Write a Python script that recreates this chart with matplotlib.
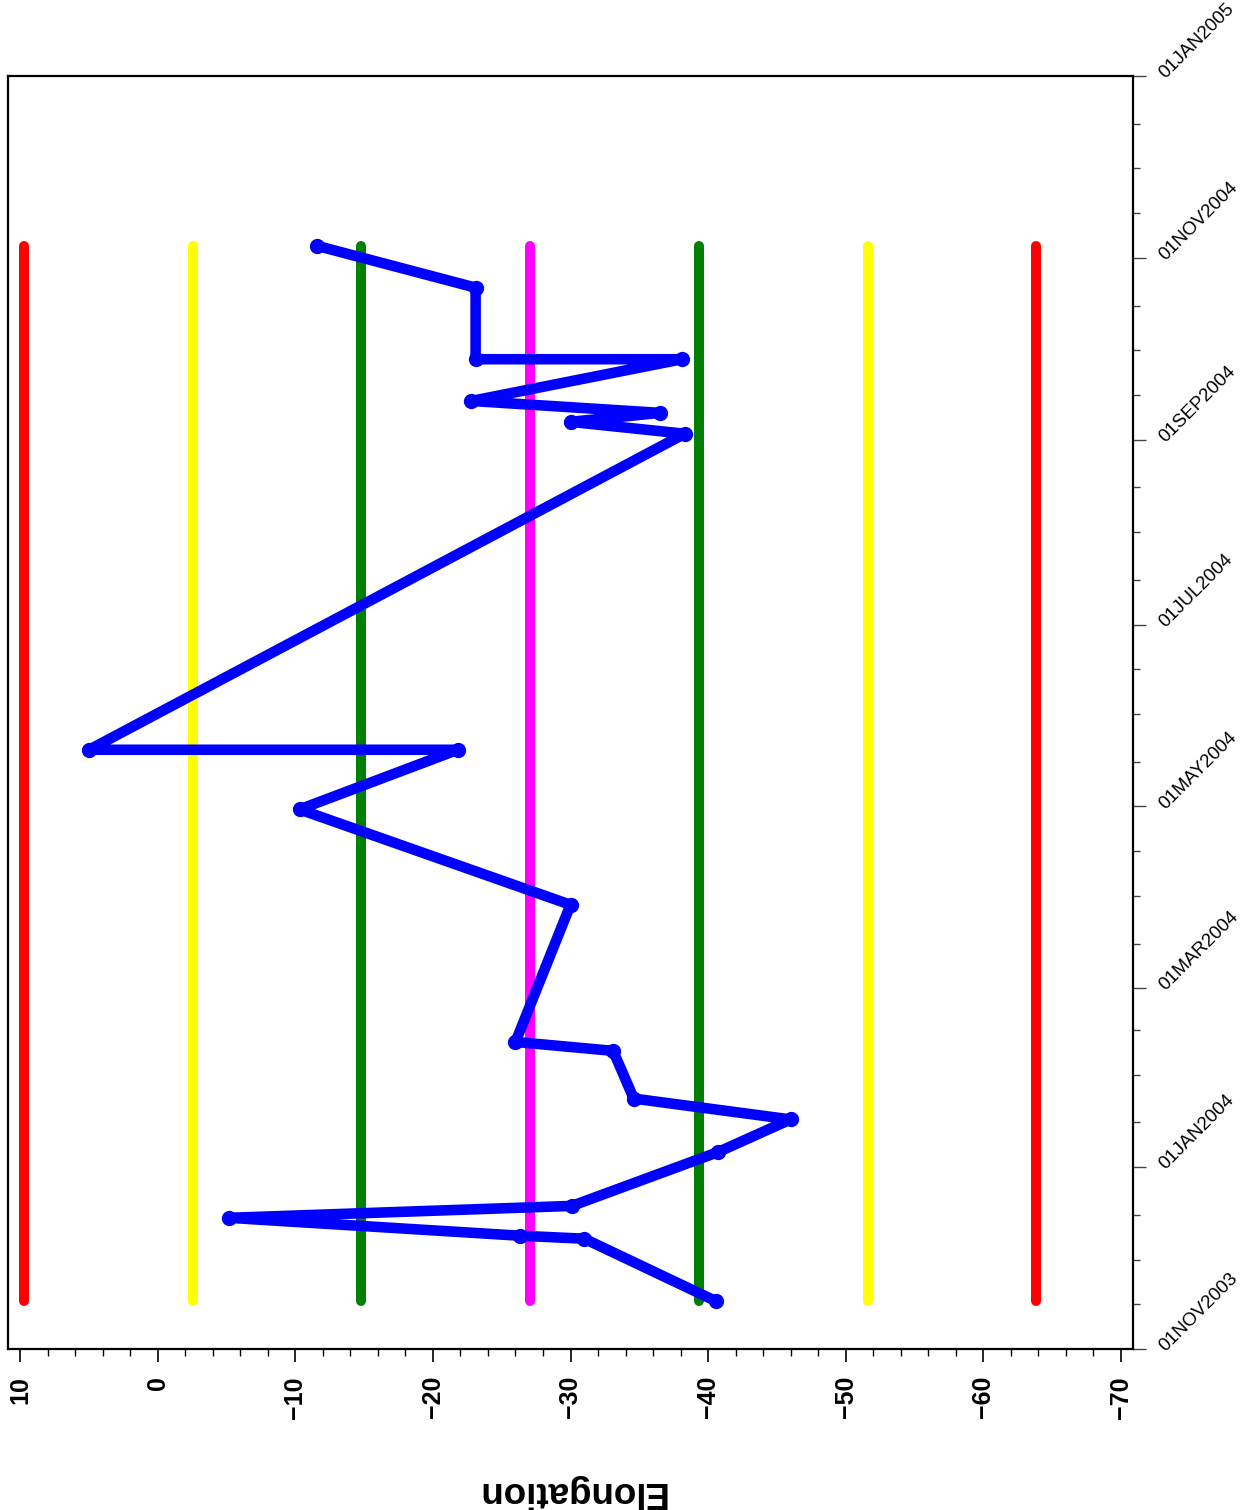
import matplotlib
matplotlib.use("Agg")
import matplotlib.pyplot as plt
import matplotlib.dates as mdates
from matplotlib.ticker import MultipleLocator, FuncFormatter
import numpy as np

plt.rcParams['font.family'] = ['Liberation Sans', 'DejaVu Sans']

# Observation dates and elongation (degrees)
obs_dates = ["2003-11-17", "2003-12-08", "2003-12-09", "2003-12-15", "2003-12-19",
             "2004-01-06", "2004-01-17", "2004-01-24", "2004-02-09", "2004-02-12",
             "2004-03-29", "2004-04-30", "2004-05-20", "2004-05-20", "2004-09-03",
             "2004-09-07", "2004-09-10", "2004-09-14", "2004-09-28", "2004-09-28",
             "2004-10-22", "2004-11-05"]
elongation = [-40.6, -31.0, -26.3, -5.2, -30.1,
              -40.7, -46.0, -34.6, -33.1, -26.0,
              -30.0, -10.3, -21.8, 5.0, -38.3,
              -30.0, -36.5, -22.8, -38.1, -23.1,
              -23.1, -11.6]

# Reference levels (mean and +/- 1, 2, 3 sigma bands)
ref_levels = [9.75, -2.52, -14.79, -27.06, -39.33, -51.60, -63.87]
ref_colors = ["#ff0000", "#ffff00", "#008000", "#ff00ff", "#008000", "#ffff00", "#ff0000"]

date_range = ["2003-11-01", "2005-01-01"]
elong_range = [10.9, -70.9]
elong_ticks = [10, 0, -10, -20, -30, -40, -50, -60, -70]

dates = mdates.date2num(np.array(obs_dates, dtype="datetime64[D]"))
d0, d1 = mdates.date2num(np.array(date_range, dtype="datetime64[D]"))

fig = plt.figure(figsize=(12.44, 15.10), dpi=100)
ax = fig.add_axes([8 / 1244, 1 - 1349 / 1510, 1125 / 1244, 1273 / 1510])

for lvl, col in zip(ref_levels, ref_colors):
    ax.plot([lvl, lvl], [dates[0], dates[-1]], color=col, lw=7.2,
            solid_capstyle="round", zorder=2)

ax.plot(elongation, dates, color="#0000ff", lw=7.6, marker="o", ms=10,
        solid_joinstyle="round", solid_capstyle="round", zorder=3)

ax.set_xlim(*elong_range)
ax.set_ylim(d0, d1)

# Elongation axis along the bottom, labels turned on their side
ax.set_xticks(elong_ticks)
ax.xaxis.set_minor_locator(MultipleLocator(2))
ax.tick_params(axis="x", which="major", direction="out", length=9.5, width=1.2,
               color="black", pad=10, labelsize=18)
ax.tick_params(axis="x", which="minor", direction="out", length=4.8, width=1.0,
               color="black")
for lab in ax.get_xticklabels():
    lab.set_rotation(90)
    lab.set_fontweight("bold")
    lab.set_ha("center")
    lab.set_va("top")
ax.set_xlabel("Elongation", fontsize=26.5, fontweight="bold", rotation=180,
              labelpad=40)

# Date axis on the right
ax.yaxis.tick_right()
ax.yaxis.set_major_locator(mdates.MonthLocator(bymonth=[1, 3, 5, 7, 9, 11]))
ax.yaxis.set_minor_locator(mdates.DayLocator(bymonthday=[1, 16]))
ax.yaxis.set_major_formatter(FuncFormatter(
    lambda v, p: mdates.num2date(v).strftime("%d%b%Y").upper()))
ax.tick_params(axis="y", which="major", direction="out", length=9, width=1.0,
               color="#444444", pad=12, labelsize=13.5)
ax.tick_params(axis="y", which="minor", direction="out", length=5, width=1.0,
               color="#444444")
for lab in ax.get_yticklabels():
    lab.set_rotation(45)
    lab.set_rotation_mode("anchor")
    lab.set_ha("left")
    lab.set_va("center")

for sp in ax.spines.values():
    sp.set_linewidth(1.6)
    sp.set_color("black")

fig.savefig("out.png", dpi=100)
